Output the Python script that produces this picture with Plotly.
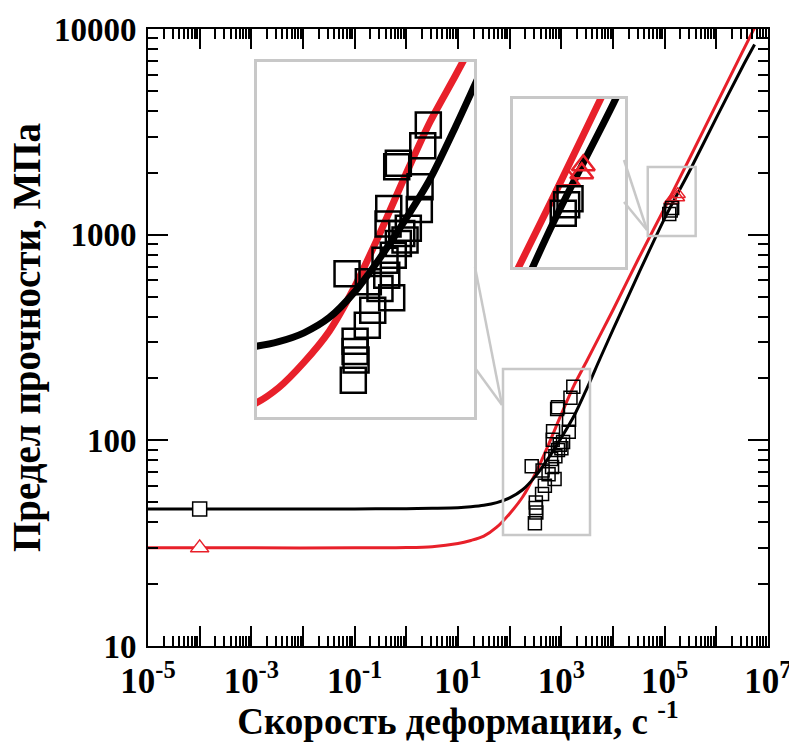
import plotly.graph_objects as go

# ---------------- data ----------------
# fitted model curves: strain rate (1/s) and strength (MPa)
fit_rate = [1e-5, 1e-3, 0.1, 1, 3.16, 10, 17.8, 31.6, 56.2, 100, 178, 316,
            562, 1000, 1778, 3162, 5623, 1e4, 31623, 1e5, 316228, 1e6,
            3162278, 5.5e6]
fit_black = [46.4, 46.4, 46.4, 46.5, 46.7, 47.0, 47.5, 48.3, 49.8, 52.5,
             57.5, 67.0, 82.0, 103, 132, 180, 250, 345, 650, 1200, 2080,
             3700, 6500, 8400]
fit_red = [30.0, 30.0, 30.0, 30.1, 30.4, 31.5, 32.6, 34.2, 37.8, 44.0, 53.0,
           69.0, 95.0, 134, 186, 245, 325, 430, 770, 1350, 2400, 4300, 7700,
           10150]

# quasi-static tests
qs_rate = [1e-4]
qs_black = [46.4]
qs_red = [30.0]

# dynamic tests, black squares
sq_rate = [1706, 1503, 861, 830, 1413, 1390, 692, 681, 931, 861, 1003, 635,
           267, 434, 740, 566, 480, 424, 321, 328, 308, 321, 1081, 767, 661,
           139600, 122700, 130900]
sq_sigma = [182.4, 161, 145, 142, 126, 110, 110.6, 100.7, 95.2, 89.7, 91.6,
            81.1, 74.8, 71.3, 64.8, 68.5, 60.1, 54.9, 49.9, 44.6, 39.5, 46.9,
            98.2, 83.6, 74.1, 1349, 1262, 1312]

# dynamic tests, red triangles
tr_rate = [179900, 174600, 135200]
tr_sigma = [1574, 1517, 1469]

x_tickvals = [10.0 ** k for k in range(-5, 8)]
x_ticktext = ["10<sup>%d</sup>" % k if (k + 5) % 2 == 0 else "" for k in range(-5, 8)]
y_tickvals = [10, 100, 1000, 10000]
y_ticktext = ["10", "100", "1000", "10000"]

RED = "#E8202A"
BLACK = "#000000"
GRAY = "#C8C8C8"
FONT = "Liberation Serif"

# zoom windows (log10 units)
inset1_x = [1.534, 3.685]
inset1_y = [1.501, 2.425]
box1_x = [1.871, 3.555]
box1_y = [1.540, 2.347]
inset2_x = [4.673, 5.600]
inset2_y = [2.994, 3.329]

fig = go.Figure()


def add_set(xa, ya, lw, sq_size, tr_size, mlw):
    fig.add_trace(go.Scatter(x=fit_rate, y=fit_red, mode="lines", line=dict(color=RED, width=lw, shape="spline", smoothing=0.8),
                             xaxis=xa, yaxis=ya, hoverinfo="skip"))
    fig.add_trace(go.Scatter(x=fit_rate, y=fit_black, mode="lines", line=dict(color=BLACK, width=lw, shape="spline", smoothing=0.8),
                             xaxis=xa, yaxis=ya, hoverinfo="skip"))
    fig.add_trace(go.Scatter(x=tr_rate, y=tr_sigma, mode="markers",
                             marker=dict(symbol="triangle-up-open", size=tr_size, color=RED, line=dict(width=mlw, color=RED)),
                             xaxis=xa, yaxis=ya))
    fig.add_trace(go.Scatter(x=sq_rate, y=sq_sigma, mode="markers",
                             marker=dict(symbol="square-open", size=sq_size, color=BLACK, line=dict(width=mlw, color=BLACK)),
                             xaxis=xa, yaxis=ya))


add_set("x", "y", 3, 13, 13, 1.5)
fig.add_trace(go.Scatter(x=qs_rate, y=qs_black, mode="markers",
                         marker=dict(symbol="square", size=14, color="white", line=dict(width=1.5, color=BLACK))))
fig.add_trace(go.Scatter(x=qs_rate, y=qs_red, mode="markers",
                         marker=dict(symbol="triangle-up", size=16, color="white", line=dict(width=1.5, color=RED))))
add_set("x2", "y2", 7, 25, 20, 2.5)
add_set("x3", "y3", 7, 25, 20, 2.5)

W, H = 789, 742
L, R, T, B = 148, 21, 29, 96
pw, ph = W - L - R, H - T - B


def px(x):
    return (x - L) / pw


def py(y):
    return (H - B - y) / ph


ax_common = dict(type="log", showgrid=False, zeroline=False, showline=True, linecolor=BLACK,
                 linewidth=2, mirror="allticks", ticks="inside", ticklen=20, tickwidth=2, tickcolor=BLACK,
                 ticklabelstandoff=3, ticklabeloverflow="allow", automargin=False)

fig.update_layout(
    width=W, height=H, margin=dict(l=L, r=R, t=T, b=B),
    plot_bgcolor="white", paper_bgcolor="white", showlegend=False,
    xaxis=dict(ax_common, range=[-5, 7.0002], tickmode="array", tickvals=x_tickvals, ticktext=x_ticktext,
               tickfont=dict(family=FONT, size=35, color=BLACK, weight="bold"),
               minor=dict(tickmode="array", tickvals=[m * 10.0 ** k for k in range(-5, 7) for m in range(2, 10)],
                          ticks="inside", ticklen=10, tickwidth=1.5, tickcolor=BLACK),
               title=dict(text="Скорость деформации, с <sup>-1</sup>", standoff=9,
                          font=dict(family=FONT, size=37, color=BLACK, weight="bold"))),
    yaxis=dict(ax_common, range=[1, 4], tickmode="array", tickvals=y_tickvals, ticktext=y_ticktext,
               tickfont=dict(family=FONT, size=33, color=BLACK, weight="bold"),
               minor=dict(tickmode="array", tickvals=[m * 10.0 ** k for k in range(1, 4) for m in range(2, 10)],
                          ticks="inside", ticklen=10, tickwidth=1.5, tickcolor=BLACK),
               title=dict(text="Предел прочности, МПа", standoff=1,
                          font=dict(family=FONT, size=39, color=BLACK, weight="bold"))),
    xaxis2=dict(type="log", range=inset1_x, domain=[px(257), px(474)], anchor="y2", showline=True, mirror=True,
                linecolor=GRAY, linewidth=2.5, ticks="", showticklabels=False, showgrid=False, zeroline=False),
    yaxis2=dict(type="log", range=inset1_y, domain=[py(417), py(62)], anchor="x2", showline=True, mirror=True,
                linecolor=GRAY, linewidth=2.5, ticks="", showticklabels=False, showgrid=False, zeroline=False),
    xaxis3=dict(type="log", range=inset2_x, domain=[px(513), px(625)], anchor="y3", showline=True, mirror=True,
                linecolor=GRAY, linewidth=2.5, ticks="", showticklabels=False, showgrid=False, zeroline=False),
    yaxis3=dict(type="log", range=inset2_y, domain=[py(267), py(99)], anchor="x3", showline=True, mirror=True,
                linecolor=GRAY, linewidth=2.5, ticks="", showticklabels=False, showgrid=False, zeroline=False),
)

shapes = [
    dict(type="rect", xref="x", yref="y", x0=10 ** box1_x[0], x1=10 ** box1_x[1], y0=10 ** box1_y[0], y1=10 ** box1_y[1],
         line=dict(color=GRAY, width=2.5)),
    dict(type="rect", xref="x", yref="y", x0=10 ** inset2_x[0], x1=10 ** inset2_x[1], y0=10 ** inset2_y[0], y1=10 ** inset2_y[1],
         line=dict(color=GRAY, width=2.5)),
    dict(type="line", xref="paper", yref="paper", x0=px(475), y0=py(267), x1=px(502), y1=py(405), line=dict(color=GRAY, width=2.5)),
    dict(type="line", xref="paper", yref="paper", x0=px(475), y0=py(368), x1=px(502), y1=py(405), line=dict(color=GRAY, width=2.5)),
    dict(type="line", xref="paper", yref="paper", x0=px(624), y0=py(160), x1=px(647), y1=py(230), line=dict(color=GRAY, width=2.5)),
    dict(type="line", xref="paper", yref="paper", x0=px(624), y0=py(202), x1=px(647), y1=py(230), line=dict(color=GRAY, width=2.5)),
]
fig.update_layout(shapes=shapes)

fig.write_html("out.html", config={"displayModeBar": False},
               post_script="document.body.style.margin='0';document.body.style.overflow='hidden';")
